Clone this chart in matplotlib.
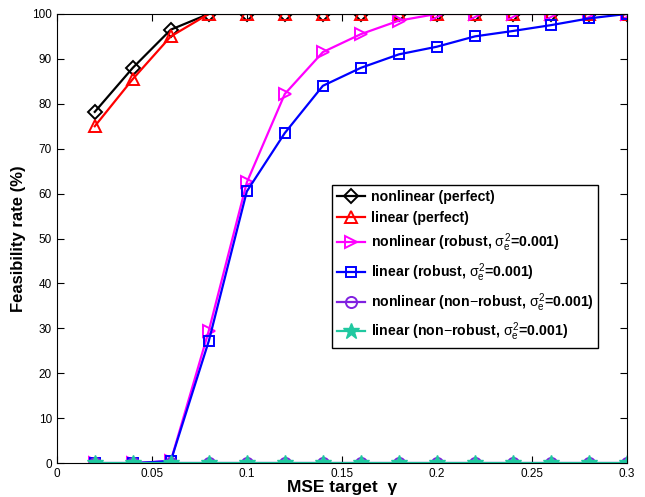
import matplotlib
matplotlib.use("Agg")
import matplotlib.pyplot as plt

plt.rcParams['font.family'] = ['Liberation Sans', 'DejaVu Sans']
plt.rcParams['mathtext.fontset'] = 'custom'
plt.rcParams['mathtext.rm'] = 'Liberation Sans'
plt.rcParams['mathtext.it'] = 'Liberation Sans'

gamma = [0.02, 0.04, 0.06, 0.08, 0.10, 0.12, 0.14, 0.16, 0.18, 0.20, 0.22, 0.24, 0.26, 0.28, 0.30]

nonlin_perfect = [78.2, 88.0, 96.5, 100, 100, 100, 100, 100, 100, 100, 100, 100, 100, 100, 100]
lin_perfect = [75.0, 85.5, 95.0, 100, 100, 100, 100, 100, 100, 100, 100, 100, 100, 100, 100]
nonlin_robust = [0, 0, 0.5, 29.5, 62.5, 82.2, 91.5, 95.5, 98.5, 100, 100, 100, 100, 100, 100]
lin_robust = [0, 0, 0.5, 27.2, 60.5, 73.5, 84.0, 88.0, 91.0, 92.7, 95.0, 96.2, 97.5, 99.0, 100]
nonlin_nonrobust = [0] * 15
lin_nonrobust = [0] * 15

labels = [
    'nonlinear (perfect)',
    'linear (perfect)',
    r'nonlinear (robust, $\sigma_e^2$=0.001)',
    r'linear (robust, $\sigma_e^2$=0.001)',
    r'nonlinear (non$-$robust, $\sigma_e^2$=0.001)',
    r'linear (non$-$robust, $\sigma_e^2$=0.001)',
]

fig = plt.figure(figsize=(6.45, 4.97), dpi=100)
ax = fig.add_axes([0.088, 0.068, 0.884, 0.904])

lw = 1.6
ax.plot(gamma, nonlin_perfect, color='black', marker='D', mfc='none', ms=7, mew=1.4, lw=lw, label=labels[0])
ax.plot(gamma, lin_perfect, color='red', marker='^', mfc='none', ms=9, mew=1.4, lw=lw, label=labels[1])
ax.plot(gamma, nonlin_robust, color='magenta', marker='>', mfc='none', ms=9, mew=1.4, lw=lw, label=labels[2])
ax.plot(gamma, lin_robust, color='blue', marker='s', mfc='none', ms=7, mew=1.4, lw=lw, label=labels[3])
ax.plot(gamma, nonlin_nonrobust, color='#8020e0', marker='o', mfc='none', ms=8, mew=1.4, lw=lw, label=labels[4])
ax.plot(gamma, lin_nonrobust, color='#20c8a0', marker='*', ms=12, lw=lw, label=labels[5])

ax.set_xlim(0, 0.3)
ax.set_ylim(0, 100)
ax.set_xticks([0, 0.05, 0.1, 0.15, 0.2, 0.25, 0.3])
ax.set_xticklabels(['0', '0.05', '0.1', '0.15', '0.2', '0.25', '0.3'])
ax.set_yticks(range(0, 101, 10))
ax.tick_params(direction='in', top=True, right=True, labelsize=8.5, length=5)

ax.set_xlabel('MSE target  γ', fontsize=12.5, fontweight='bold', labelpad=0)
ax.set_ylabel('Feasibility rate (%)', fontsize=12, fontweight='bold')

leg = ax.legend(loc='upper left', bbox_to_anchor=(0.482, 0.62), fancybox=False,
                edgecolor='black', framealpha=1, handlelength=2.0, borderaxespad=0,
                handletextpad=0.4, labelspacing=0.5, borderpad=0.35,
                prop={'weight': 'bold', 'size': 10.2})
leg.get_frame().set_linewidth(1.0)

fig.savefig('out.png', dpi=100)
